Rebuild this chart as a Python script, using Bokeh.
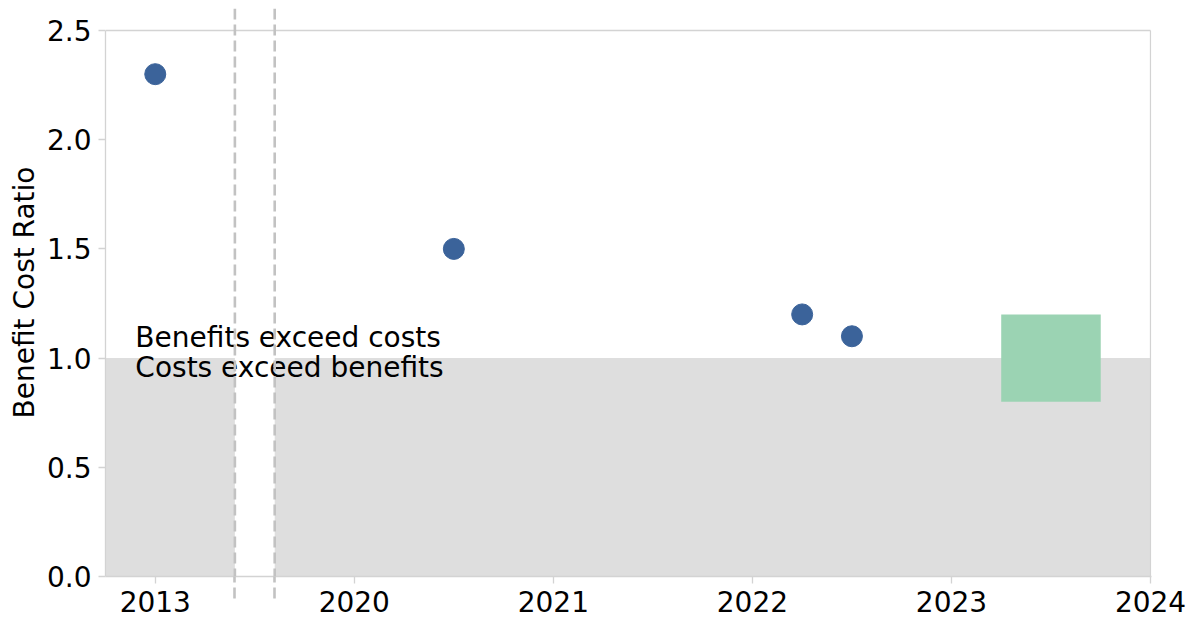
from bokeh.plotting import figure
from bokeh.models import FixedTicker, PrintfTickFormatter, Span, Range1d
from bokeh.core.properties import value
from bokeh.embed import file_html
from bokeh.resources import INLINE

# ---- data ----
years = [2013, 2020.5, 2022.25, 2022.5]
ratios = [2.3, 1.5, 1.2, 1.1]
target_years = [2023.25, 2023.75]
target_ratios = [0.8, 1.2]
tick_years = [2013, 2020, 2021, 2022, 2023, 2024]
y_ticks = [0.0, 0.5, 1.0, 1.5, 2.0, 2.5]
threshold = 1.0
note_labels = ["Benefits exceed costs", "Costs exceed benefits"]

# broken axis: years before the break are shifted next to 2020
GAP_SHIFT = 6          # 2013 -> drawn at 2019
BREAK = [2019.4, 2019.6]
X_START, X_END = 2018.75, 2024.0
Y_MIN, Y_MAX = 0.0, 2.5


def to_axis(yr):
    return yr + GAP_SHIFT if yr < 2019 else yr


xs = [to_axis(v) for v in years]
ticks = [to_axis(t) for t in tick_years]

FONT = "DejaVu Sans"
AX_COL = "#d3d3d3"
DASH_COL = "#c2c2c2"

p = figure(width=1196, height=618, output_backend="svg", toolbar_location=None,
           title=None,
           x_range=Range1d(X_START, X_END + 0.005),
           y_range=Range1d(Y_MIN, 2.6007),
           min_border_left=105, min_border_right=45, min_border_top=8, min_border_bottom=42)
p.outline_line_color = None
p.grid.visible = False
p.background_fill_color = "white"
p.border_fill_color = "white"

# shaded "costs exceed benefits" region (interrupted at the axis break)
p.quad(left=[X_START, BREAK[1]], right=[BREAK[0], X_END], bottom=Y_MIN, top=threshold,
       fill_color="#dedede", line_color=None)

# target range box
p.quad(left=[target_years[0]], right=[target_years[1]],
       bottom=[target_ratios[0]], top=[target_ratios[1]],
       fill_color="#9bd3b3", line_color=None)

# frame top and right edges
p.segment(x0=[X_START, X_END], y0=[Y_MAX, Y_MIN], x1=[X_END, X_END], y1=[Y_MAX, Y_MAX],
          line_color=AX_COL, line_width=1.3)

# points
p.scatter(xs, ratios, size=21, fill_color="#3b639a", line_color="#3b639a")

# notes
p.text(x=[2018.9, 2018.9], y=[1.0935, 0.9565], text=note_labels,
       text_font=value(FONT), text_font_size="28px", text_color="black",
       text_baseline="alphabetic", text_align="left")

# axis break markers
for b in BREAK:
    p.add_layout(Span(location=b, dimension="height", line_color=DASH_COL,
                      line_width=2.6, line_dash="11 5"))

# axes
p.xaxis.ticker = FixedTicker(ticks=ticks, minor_ticks=BREAK)
p.xaxis.major_label_overrides = {t: str(y) for t, y in zip(ticks, tick_years)}
p.yaxis.ticker = FixedTicker(ticks=y_ticks)
p.yaxis.formatter = PrintfTickFormatter(format="%.1f")
p.yaxis.bounds = (Y_MIN, Y_MAX)
p.yaxis.axis_label = "Benefit Cost Ratio"
p.yaxis.axis_label_text_font = FONT
p.yaxis.axis_label_text_font_size = "28px"
p.yaxis.axis_label_text_font_style = "normal"
p.yaxis.axis_label_text_color = "black"
p.yaxis.axis_label_standoff = 3

for ax in (p.xaxis, p.yaxis):
    ax.axis_line_color = AX_COL
    ax.axis_line_width = 1.3
    ax.major_tick_line_color = AX_COL
    ax.major_tick_line_width = 1.3
    ax.major_tick_in = 0
    ax.major_label_text_font = FONT
    ax.major_label_text_font_size = "28px"
    ax.major_label_text_color = "black"

p.yaxis.minor_tick_line_color = None
# break markers continue below the axis as dashed minor ticks
p.xaxis.minor_tick_in = 0
p.xaxis.minor_tick_out = 22
p.xaxis.minor_tick_line_color = DASH_COL
p.xaxis.minor_tick_line_width = 2.6
p.xaxis.minor_tick_line_dash = "11 5"

p.xaxis.major_tick_out = 7
p.xaxis.major_label_standoff = -8
p.yaxis.major_tick_out = 7
p.yaxis.major_label_standoff = 7

open("out.html", "w").write(file_html(p, INLINE))
